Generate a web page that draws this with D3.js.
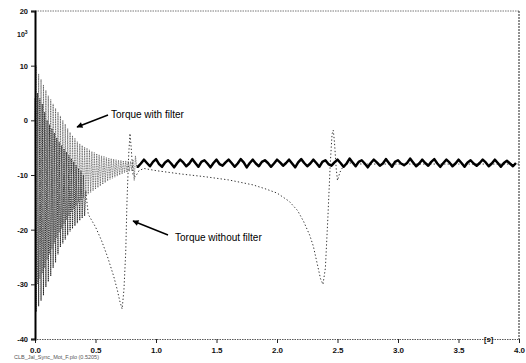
<!DOCTYPE html>
<html><head><meta charset="utf-8">
<script src="https://cdn.jsdelivr.net/npm/d3@7"></script>
<style>
html,body{margin:0;padding:0;background:#fff;}
svg{display:block;}
text{font-family:"Liberation Sans",Arial,sans-serif;}
</style></head>
<body>
<svg id="c" width="526" height="363"></svg>
<script>
// ---- data ----
const xTicks = [0, 0.5, 1.0, 1.5, 2.0, 2.5, 3.0, 3.5, 4.0];
const xTickLabels = ["0.0","0.5","1.0","1.5","2.0","2.5","3.0","3.5","4.0"];
const yTicks = [20, 10, 0, -10, -20, -30, -40];
const yTickLabels = ["20","10","0","-10","-20","-30","-40"];

// Torque with filter: transient, one sample every 0.01 s from t = 0.00
const withFilterTransientStep = 0.01;
const withFilterTransient = [
 0, 10, -30, 8.5, -29, 7.5, -28, 6.5, -27, 5.5,
 -25.5, 4.5, -24.5, 3.8, -23.5, 3, -22.5, 2.2, -21.5, 1.5,
 -20.5, 0.8, -19.8, 0, -19, -0.7, -18.2, -1.5, -17.5, -2.2,
 -16.8, -2.8, -16.2, -3.3, -15.6, -3.9, -15, -4.3, -14.6, -4.6,
 -14.2, -4.9, -13.8, -5.1, -13.5, -5.4, -13.2, -5.7, -12.9, -5.9,
 -12.6, -6.1, -12.3, -6.3, -12, -6.5, -11.7, -6.6, -11.4, -6.8,
 -11.1, -6.9, -10.8, -7, -10.6, -7.1, -10.4, -7.2, -10.2, -7.3,
 -10, -7.3, -9.8, -7.4, -9.6, -7.4, -9.5, -7.5, -9.3, -7.5,
 -9.2, -7.2, -11, -6.5, -8.5
];
// Torque with filter: steady ripple, one sample every 0.025 s from t = 0.85
const withFilterRippleStart = 0.85;
const withFilterRippleStep = 0.025;
const withFilterRipple = [
 -8.5, -7.9, -7.2, -7.8, -8.4, -7.6, -7.1, -8.0, -8.5, -7.7, -7.3, -7.9, -8.6, -7.8, -7.2, -7.7,
 -8.4, -7.9, -7.1, -7.8, -8.5, -7.6, -7.3, -7.9, -8.6, -7.8, -7.2, -8.0, -8.3, -7.7, -7.2, -7.8,
 -8.5, -7.9, -7.1, -7.7, -8.6, -7.8, -7.2, -7.9, -8.4, -7.6, -7.3, -7.8, -8.5, -7.9, -7.2, -7.7,
 -8.3, -7.8, -7.2, -7.9, -8.6, -7.7, -7.1, -7.8, -8.4, -7.9, -7.2, -7.8, -8.5, -7.6, -7.3, -8.0,
 -8.3, -7.7, -7.2, -7.8, -8.5, -7.9, -7.0, -7.7, -8.4, -7.6, -7.3, -7.9, -8.6, -7.8, -7.2, -7.7,
 -8.3, -7.9, -7.1, -7.8, -8.5, -7.6, -7.3, -7.9, -8.2, -7.8, -7.0, -7.7, -8.4, -7.9, -7.2, -7.8,
 -8.3, -7.6, -7.1, -7.9, -8.5, -7.8, -7.2, -7.7, -8.4, -7.9, -7.2, -7.8, -8.5, -7.7, -7.3, -7.9,
 -8.3, -7.8, -7.2, -7.7, -8.4, -7.9, -7.2, -7.8, -8.5, -7.8, -7.4, -7.9, -8.4, -7.8
];
// Torque without filter: transient oscillation, every 0.01 s from t = 0.00
const withoutFilterOscStep = 0.01;
const withoutFilterOsc = [
 4, -35, 5, -34, 4, -33, 3, -32, 1.5, -30.5,
 0, -29.5, -0.8, -28.5, -1.5, -27, -2.3, -26, -3.2, -24.5,
 -4, -23.2, -4.6, -22.5, -5.2, -21.8, -5.8, -21, -6.4, -20.3,
 -7, -19.8, -7.6, -19.3, -8.2, -18.8, -8.8, -18.3, -9.3, -17.9,
 -10, -17.5, -13
];
// Torque without filter: slow part (time, value)
const withoutFilterT = [0.44, 0.50, 0.55, 0.60, 0.65, 0.68, 0.70, 0.72, 0.735, 0.75,
 0.76, 0.775, 0.785, 0.795, 0.81, 0.83, 0.86, 0.90, 1.0, 1.2,
 1.4, 1.6, 1.8, 1.9, 2.0, 2.1, 2.17, 2.22, 2.27, 2.30,
 2.33, 2.36, 2.38, 2.40, 2.42, 2.44, 2.455, 2.465, 2.475, 2.49,
 2.50, 2.52, 2.55, 2.6, 2.7, 3.0, 3.5, 4.0];
const withoutFilterV = [-17.2, -19.5, -22, -25, -28.5, -31, -33, -34.5, -31, -24,
 -15, -6, -2.4, -5, -10, -10.3, -9.2, -8.8, -9.2, -9.8,
 -10.3, -10.9, -11.8, -12.5, -13.3, -14.8, -16.5, -18.5, -21, -23,
 -26, -29, -30, -27, -18, -8, -2.5, -1.8, -4, -9,
 -11, -9.5, -8.3, -7.8, -8, -8, -8, -8];

// ---- drawing ----
const svg = d3.select("#c");
const L = 35, R = 519, T = 11, B = 339;
const x = d3.scaleLinear().domain([0, 4]).range([L, R]);
const y = d3.scaleLinear().domain([-40, 20]).range([B, T]);
const line = d3.line().x(d => x(d[0])).y(d => y(d[1]));

// borders
svg.append("line").attr("x1", L).attr("x2", R).attr("y1", T).attr("y2", T)
  .attr("stroke", "#555").attr("stroke-width", 0.8).attr("stroke-dasharray", "1.5,1");
svg.append("line").attr("x1", R).attr("x2", R).attr("y1", T).attr("y2", B)
  .attr("stroke", "#222").attr("stroke-width", 1).attr("stroke-dasharray", "2,1");

// data: without filter
const wfOsc = withoutFilterOsc.map((v, i) => [i * withoutFilterOscStep, v]);
svg.append("path").attr("d", line(wfOsc)).attr("fill", "none")
  .attr("stroke", "#111").attr("stroke-width", 0.9).attr("stroke-dasharray", "1.2,0.8");
const wfSlow = withoutFilterT.map((t, i) => [t, withoutFilterV[i]]);
svg.append("path").attr("d", line([[0.42, withoutFilterOsc[42]]].concat(wfSlow)))
  .attr("fill", "none").attr("stroke", "#333").attr("stroke-width", 1)
  .attr("stroke-dasharray", "1.3,2.2");

// data: with filter
const fTr = withFilterTransient.map((v, i) => [i * withFilterTransientStep, v]);
svg.append("path").attr("d", line(fTr)).attr("fill", "none")
  .attr("stroke", "#444").attr("stroke-width", 0.7).attr("stroke-dasharray", "1,0.7");
const fRp = withFilterRipple.map((v, i) => [withFilterRippleStart + i * withFilterRippleStep, v]);
svg.append("path").attr("d", line([fTr[fTr.length - 1]].concat(fRp))).attr("fill", "none")
  .attr("stroke", "#000").attr("stroke-width", 2.5).attr("stroke-linejoin", "round");

// axes
const gx = svg.append("g").attr("transform", `translate(0,${B})`)
  .call(d3.axisBottom(x).tickValues(xTicks).tickSize(4).tickFormat((d, i) => xTickLabels[i]));
gx.select(".domain").attr("stroke", "#444").attr("stroke-width", 0.9).attr("stroke-dasharray", "1.5,1");
gx.selectAll(".tick line").attr("stroke", "#222");
gx.selectAll(".tick text").attr("font-size", 8).attr("font-weight", "bold")
  .attr("font-family", "Liberation Sans, Arial, sans-serif").attr("dy", "0.9em").attr("fill", "#111");

const gy = svg.append("g").attr("transform", `translate(${L},0)`)
  .call(d3.axisLeft(y).tickValues(yTicks).tickSize(4).tickFormat((d, i) => yTickLabels[i]));
gy.select(".domain").attr("stroke", "#000").attr("stroke-width", 2);
gy.selectAll(".tick line").attr("stroke", "#222");
gy.selectAll(".tick text").attr("font-size", 7.5).attr("font-weight", "bold")
  .attr("font-family", "Liberation Sans, Arial, sans-serif").attr("fill", "#111");

// unit labels
const ul = svg.append("text").attr("x", 17).attr("y", 37).attr("font-size", 7)
  .attr("font-weight", "bold").attr("fill", "#111");
ul.append("tspan").text("10");
ul.append("tspan").attr("dy", -3).attr("font-size", 5).text("3");
svg.append("text").attr("x", 484).attr("y", 342).attr("font-size", 7.5)
  .attr("font-weight", "bold").attr("fill", "#111").text("[s]");

// annotations
svg.append("defs").append("marker").attr("id", "ah").attr("viewBox", "0 0 10 10")
  .attr("refX", 9).attr("refY", 5).attr("markerWidth", 8).attr("markerHeight", 6)
  .attr("orient", "auto").attr("markerUnits", "userSpaceOnUse")
  .append("path").attr("d", "M0,0L10,5L0,10z").attr("fill", "#000");
svg.append("line").attr("x1", 108).attr("y1", 115).attr("x2", 77).attr("y2", 127)
  .attr("stroke", "#000").attr("stroke-width", 1.4).attr("marker-end", "url(#ah)");
svg.append("text").attr("x", 111).attr("y", 118).attr("font-size", 10).attr("fill", "#000")
  .text("Torque with filter");
svg.append("line").attr("x1", 168).attr("y1", 235).attr("x2", 133).attr("y2", 221)
  .attr("stroke", "#000").attr("stroke-width", 1.4).attr("marker-end", "url(#ah)");
svg.append("text").attr("x", 175).attr("y", 241).attr("font-size", 10).attr("fill", "#000")
  .text("Torque without filter");

// file name footer
svg.append("text").attr("x", 14).attr("y", 359).attr("font-size", 5.5).attr("fill", "#555")
  .text("CLB_Jal_Sync_Mot_F.plo  (0.5205)");
</script>
</body></html>
